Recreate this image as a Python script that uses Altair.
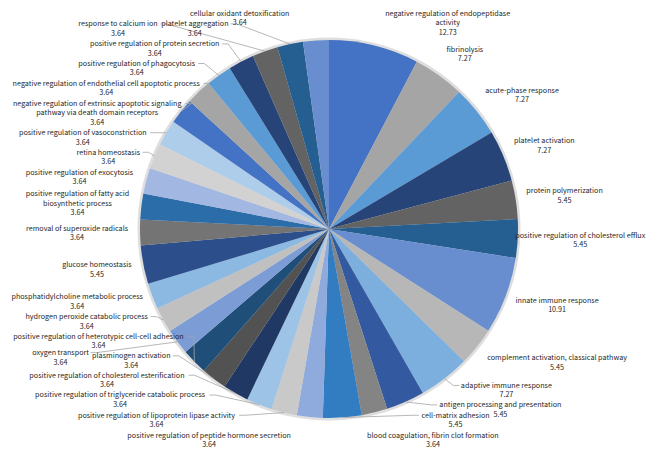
import math
import colorsys
import altair as alt
import pandas as pd

# ---------------- data ----------------
names = [
    "negative regulation of endopeptidase\nactivity",
    "fibrinolysis",
    "acute-phase response",
    "platelet activation",
    "protein polymerization",
    "positive regulation of cholesterol efflux",
    "innate immune response",
    "complement activation, classical pathway",
    "adaptive immune response",
    "antigen processing and presentation",
    "blood coagulation, fibrin clot formation",
    "cell-matrix adhesion",
    "positive regulation of peptide hormone secretion",
    "positive regulation of lipoprotein lipase activity",
    "positive regulation of triglyceride catabolic process",
    "positive regulation of cholesterol esterification",
    "plasminogen activation",
    "positive regulation of heterotypic cell-cell adhesion",
    "oxygen transport",
    "hydrogen peroxide catabolic process",
    "phosphatidylcholine metabolic process",
    "glucose homeostasis",
    "removal of superoxide radicals",
    "positive regulation of fatty acid\nbiosynthetic process",
    "positive regulation of exocytosis",
    "retina homeostasis",
    "positive regulation of vasoconstriction",
    "negative regulation of extrinsic apoptotic signaling\npathway via death domain receptors",
    "negative regulation of endothelial cell apoptotic process",
    "positive regulation of phagocytosis",
    "positive regulation of protein secretion",
    "response to calcium ion",
    "platelet aggregation",
    "cellular oxidant detoxification",
]
values = [12.73, 7.27, 7.27, 7.27, 5.45, 5.45, 10.91, 5.45, 7.27, 5.45, 3.64, 5.45,
          3.64, 3.64, 3.64, 3.64, 3.64, 3.64, 3.64, 3.64, 3.64, 5.45,
          3.64, 3.64, 3.64, 3.64, 3.64, 3.64, 3.64, 3.64, 3.64, 3.64, 3.64, 3.64]

# Excel-like palette: three theme colours and their luminance variations
base_colors = ["#4472C4", "#A5A5A5", "#5B9BD5"]
lum_mods = [(1, 0), (0.6, 0), (0.8, 0.2), (0.8, 0), (0.6, 0.4), (0.5, 0), (0.7, 0.3), (0.7, 0), (0.5, 0.5)]


def mod_color(hexc, mod, off):
    r, g, b = [int(hexc[k:k + 2], 16) / 255 for k in (1, 3, 5)]
    h, l, s = colorsys.rgb_to_hls(r, g, b)
    l = min(1.0, l * mod + off)
    r, g, b = colorsys.hls_to_rgb(h, l, s)
    return "#%02x%02x%02x" % tuple(int(round(c * 255)) for c in (r, g, b))


palette = [mod_color(base_colors[k % 3], *lum_mods[(k // 3) % 9]) for k in range(len(values))]
keys = ["s%02d" % i for i in range(len(values))]

# ---------------- label layout ----------------
W, H = 642, 442
R = 189
A_LAB, B_LAB = 200, 215
LH = 9.5
FS = 7.2
WF = 1.08  # width correction of the per-character estimate


def text_w(s):
    w = 0.0
    for c in s:
        if c.isdigit():
            w += 3.9
        elif c in ".,":
            w += 1.9
        elif c == " ":
            w += 1.9
        elif c in "mw":
            w += 5.6
        elif c in "iljtfr-":
            w += 2.3
        else:
            w += 3.7
    return w * WF


total = sum(values)
mids = []
cum = 0.0
for v in values:
    mids.append((cum + v / 2) / total * 2 * math.pi)
    cum += v


def ell_x(dy):
    t = max(0.0, 1 - (dy / B_LAB) ** 2)
    return A_LAB * math.sqrt(t)


labs = []
for i, (nm, v) in enumerate(zip(names, values)):
    lines = nm.split("\n") + ["%.2f" % v]
    th = mids[i]
    side = 1 if math.sin(th) >= 0 else -1
    labs.append(dict(i=i, lines=lines, side=side, ideal=-B_LAB * math.cos(th), th=th,
                     n=len(lines), w=[text_w(s) for s in lines], sx=0.0))


def geom(lab, dy, sx):
    w0 = max(lab["w"])
    near = lab["side"] * (ell_x(dy) + sx)
    cx = near + lab["side"] * w0 / 2
    cx = min(max(cx, -W / 2 + 3 + w0 / 2), W / 2 - 3 - w0 / 2)
    top = dy - lab["n"] * LH / 2
    bx = [(cx - w / 2, cx + w / 2, top + k * LH, top + (k + 1) * LH) for k, w in enumerate(lab["w"])]
    return cx, top, bx


def ov(a, b, padx=2.5, pady=0.3):
    return not (a[1] + padx <= b[0] or b[1] + padx <= a[0] or a[3] + pady <= b[2] or b[3] + pady <= a[2])


def collides(bx, placed):
    for pb in placed:
        for a in bx:
            for b in pb:
                if ov(a, b):
                    return True
    return False


def lim(lab):
    half = lab["n"] * LH / 2
    return -H / 2 + half + 0.5, H / 2 - half - 0.5


cands = sorted(((dyy, dxx) for dyy in range(0, 41) for dxx in range(0, 101, 2)),
               key=lambda c: c[0] + 0.2 * c[1])

# forward pass (top to bottom): move down or outwards
order = sorted(labs, key=lambda d: d["ideal"])
placed = []
for lab in order:
    lo, hi = lim(lab)
    y0 = min(max(lab["ideal"], lo), hi)
    best = None
    for dyy, dxx in cands:
        y = min(y0 + dyy, hi)
        if not collides(geom(lab, y, dxx)[2], placed):
            best = (y, dxx)
            break
    if best is None:
        y = y0 + 40
        while collides(geom(lab, y, 0)[2], placed) and y < 600:
            y += 0.5
        best = (y, 0)
    lab["fwd"], lab["sx"] = best
    placed.append(geom(lab, best[0], best[1])[2])

# backward pass (bottom to top): move up or outwards
order = sorted(labs, key=lambda d: -d["fwd"])
placed = []
for lab in order:
    lo, hi = lim(lab)
    y0 = min(lab["fwd"], hi)
    best = None
    for dyy, dxx in cands:
        y = max(y0 - dyy, lo)
        if not collides(geom(lab, y, lab["sx"] + dxx)[2], placed):
            best = (y, lab["sx"] + dxx)
            break
    if best is None:
        y = y0 - 40
        while y > lo and collides(geom(lab, y, lab["sx"])[2], placed):
            y -= 0.5
        best = (max(y, lo), lab["sx"])
    lab["dy"], lab["sx"] = best
    placed.append(geom(lab, best[0], best[1])[2])

text_rows, line_rows = [], []
for lab in labs:
    cx, top, bx = geom(lab, lab["dy"], lab["sx"])
    text_rows.append(dict(x=cx, y=top + (LH / 2 - 0.5 * FS), text="\n".join(lab["lines"])))
    if abs(lab["dy"] - lab["ideal"]) > 6 or lab["sx"] > 6:
        s = lab["side"]
        yl = top + LH / 2
        xe = cx - s * lab["w"][0] / 2
        pts = [(R * math.sin(lab["th"]), -R * math.cos(lab["th"])),
               (xe - s * 8, yl), (xe - s * 2, yl)]
        for k, (px, py) in enumerate(pts):
            line_rows.append(dict(key=keys[lab["i"]], seq=k, x=px, y=py))

pie_df = pd.DataFrame({"key": keys, "name": [n.replace("\n", " ") for n in names],
                       "value": values, "idx": list(range(len(values)))})
text_df = pd.DataFrame(text_rows)
line_df = pd.DataFrame(line_rows)

xs = alt.Scale(domain=[-W / 2, W / 2], nice=False, zero=False)
ys = alt.Scale(domain=[-H / 2, H / 2], nice=False, zero=False, reverse=True)

halo = alt.Chart(pd.DataFrame({"v": [1]})).mark_arc(outerRadius=R + 2.5, color="#dedede").encode(
    theta=alt.Theta("v:Q")
)

pie = alt.Chart(pie_df).mark_arc(outerRadius=R).encode(
    theta=alt.Theta("value:Q", stack=True),
    color=alt.Color("key:N", scale=alt.Scale(domain=keys, range=palette), legend=None),
    order=alt.Order("idx:Q", sort="ascending"),
)

leaders = alt.Chart(line_df).mark_line(color="#a6a6a6", strokeWidth=0.8).encode(
    x=alt.X("x:Q", scale=xs, axis=None),
    y=alt.Y("y:Q", scale=ys, axis=None),
    detail="key:N",
    order="seq:Q",
)

texts = alt.Chart(text_df).mark_text(
    align="center", baseline="top", lineBreak="\n", lineHeight=LH,
    fontSize=FS, font="Noto Sans CJK KR", color="#262626",
).encode(
    x=alt.X("x:Q", scale=xs, axis=None),
    y=alt.Y("y:Q", scale=ys, axis=None),
    text="text:N",
)

chart = alt.layer(halo, pie, leaders, texts).resolve_scale(theta="independent").properties(
    width=W, height=H, padding=0, autosize=alt.AutoSizeParams(type="none"),
    background="white",
).configure_view(stroke=None)

chart.save("out.html", embed_options={"renderer": "svg", "actions": False})
